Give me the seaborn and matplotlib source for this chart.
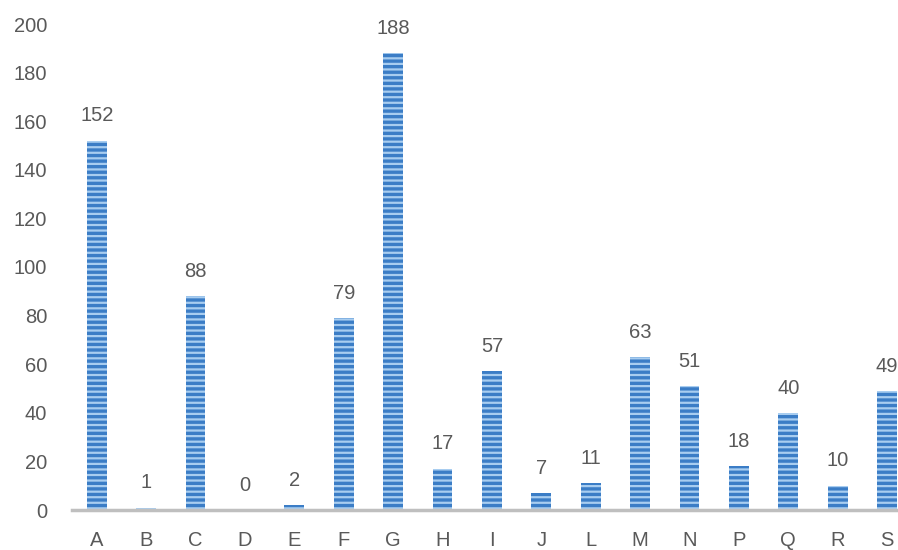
import matplotlib
matplotlib.use('Agg')
import matplotlib.pyplot as plt
import seaborn as sns

categories = ['A', 'B', 'C', 'D', 'E', 'F', 'G', 'H', 'I', 'J', 'L', 'M', 'N', 'P', 'Q', 'R', 'S']
values = [152, 1, 88, 0, 2, 79, 188, 17, 57, 7, 11, 63, 51, 18, 40, 10, 49]

sns.set_style('white')
plt.rcParams['font.family'] = ['Liberation Sans', 'DejaVu Sans']
plt.rcParams['hatch.linewidth'] = 1.6

fig = plt.figure(figsize=(8.98, 5.5), dpi=100)
ax = fig.add_axes([72 / 898, 40 / 550, 1 - 72 / 898, 486 / 550])

sns.barplot(x=categories, y=values, color='#3b7dc6', width=0.4, saturation=1,
            hatch='---', edgecolor='#a8cdf0', linewidth=0, ax=ax)

for c in ax.containers:
    ax.bar_label(c, padding=11, fontsize=14.5, color='#595959')

ax.set_ylim(0, 200)
ax.set_xlim(-0.5, 16.22)
ax.set_yticks(range(0, 201, 20))
for s in ['top', 'right', 'left']:
    ax.spines[s].set_visible(False)
ax.spines['bottom'].set_color('#bfbfbf')
ax.spines['bottom'].set_linewidth(2.5)
ax.tick_params(axis='both', length=0, labelsize=14.5, labelcolor='#595959')
ax.tick_params(axis='x', pad=15)
ax.tick_params(axis='y', pad=18)
ax.set_xlabel('')
ax.set_ylabel('')

plt.savefig('out.png', dpi=100)
